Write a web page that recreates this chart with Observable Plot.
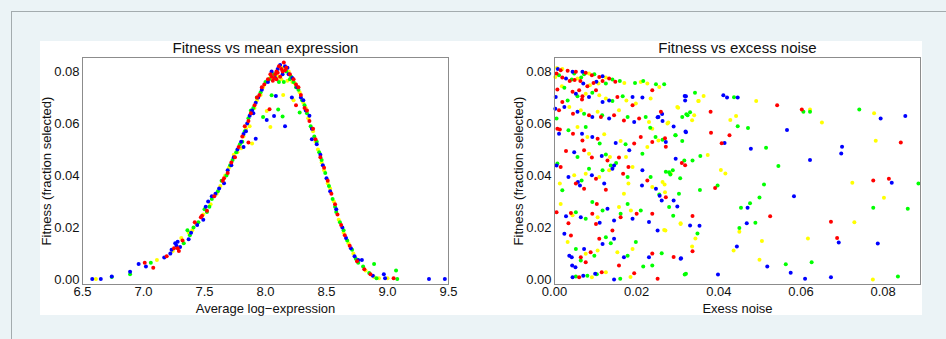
<!DOCTYPE html>
<html><head><meta charset="utf-8">
<script src="https://cdn.jsdelivr.net/npm/d3@7"></script>
<script src="https://cdn.jsdelivr.net/npm/@observablehq/plot@0.6"></script>
<style>
html,body{margin:0;padding:0;background:#ebf3f6;width:946px;height:339px;overflow:hidden;position:relative;font-family:"Liberation Sans",Arial,sans-serif}
#border{position:absolute;left:11px;top:11px;width:1000px;height:400px;border-left:1px solid #a3abae;border-top:1px solid #a3abae}
#panel{position:absolute;left:40px;top:41px;width:882px;height:274px;background:#fff}
#left{position:absolute;left:40px;top:41px}
#right{position:absolute;left:481px;top:41px}
</style></head>
<body>
<div id="border"></div>
<div id="panel"></div>
<div id="left"></div>
<div id="right"></div>
<script>
const seriesNames = ["series Y", "series G", "series B", "series R"];
const seriesColors = ["#ffff00", "#00ff00", "#0000ff", "#ff0000"];
const yTicks = [0, 0.02, 0.04, 0.06, 0.08];
const leftXTicks = [6.5, 7.0, 7.5, 8.0, 8.5, 9.0, 9.5];
const rightXTicks = [0, 0.02, 0.04, 0.06, 0.08];
const leftTitle = "Fitness vs mean expression";
const rightTitle = "Fitness vs excess noise";
const leftXLabel = "Average log\u2212expression";
const rightXLabel = "Exess noise";
const yLabel = "Fitness (fraction selected)";

const leftBlue = [[6.58,0.0002],[6.65,0.0002],[6.74,0.0012],[6.89,0.0030],[6.96,0.0060],[7.02,0.0050],[7.17,0.0085],[7.22,0.0100],[7.23,0.0115],[7.26,0.0140],[7.27,0.0130],[7.28,0.0145],[7.30,0.0125],[7.37,0.0155],[7.39,0.0180],[7.44,0.0210],[7.49,0.0230],[7.51,0.0280],[7.53,0.0300],[7.56,0.0320],[7.59,0.0330],[7.62,0.0350],[7.66,0.0370],[7.69,0.0420],[7.72,0.0440],[7.74,0.0470],[7.77,0.0500],[7.80,0.0530],[7.82,0.0560],[7.82,0.0510],[7.84,0.0570],[7.85,0.0600],[7.87,0.0630],[7.89,0.0650],[7.90,0.0640],[7.92,0.0680],[7.92,0.0542],[7.94,0.0700],[7.97,0.0730],[8.01,0.0614],[8.02,0.0760],[8.05,0.0800],[8.07,0.0629],[8.085,0.0706],[8.08,0.0775],[8.10,0.0810],[8.12,0.0825],[8.14,0.0790],[8.16,0.0820],[8.16,0.0590],[8.18,0.0815],[8.19,0.0790],[8.216,0.0700],[8.22,0.0775],[8.26,0.0740],[8.29,0.0700],[8.31,0.0690],[8.33,0.0650],[8.36,0.0630],[8.38,0.0580],[8.38,0.0540],[8.42,0.0520],[8.45,0.0480],[8.47,0.0440],[8.50,0.0390],[8.53,0.0340],[8.58,0.0270],[8.63,0.0200],[8.66,0.0160],[8.70,0.0120],[8.73,0.0090],[8.76,0.0075],[8.79,0.0075],[8.88,0.0015],[8.97,0.0020],[8.98,0.0005],[9.34,0.0002],[9.47,0.0002]];
const leftRed = [[7.01,0.0065],[7.08,0.0045],[7.19,0.0090],[7.25,0.0120],[7.28,0.0120],[7.29,0.0110],[7.32,0.0150],[7.42,0.0220],[7.47,0.0240],[7.48,0.0245],[7.52,0.0265],[7.58,0.0320],[7.65,0.0380],[7.66,0.0390],[7.69,0.0410],[7.72,0.0450],[7.75,0.0470],[7.78,0.0510],[7.81,0.0550],[7.83,0.0590],[7.86,0.0610],[7.86,0.0527],[7.88,0.0640],[7.91,0.0670],[7.93,0.0700],[7.95,0.0710],[7.97,0.0740],[7.99,0.0750],[8.02,0.0770],[8.033,0.0655],[8.04,0.0790],[8.05,0.0780],[8.06,0.0765],[8.07,0.0775],[8.08,0.0790],[8.09,0.0800],[8.09,0.0770],[8.10,0.0795],[8.11,0.0820],[8.12,0.0780],[8.13,0.0810],[8.14,0.0800],[8.15,0.0835],[8.16,0.0805],[8.17,0.0815],[8.20,0.0790],[8.23,0.0770],[8.25,0.0670],[8.25,0.0750],[8.27,0.0740],[8.29,0.0710],[8.32,0.0660],[8.34,0.0650],[8.36,0.0610],[8.39,0.0580],[8.41,0.0540],[8.45,0.0470],[8.48,0.0430],[8.51,0.0380],[8.54,0.0330],[8.57,0.0290],[8.59,0.0250],[8.62,0.0210],[8.65,0.0170],[8.69,0.0130],[8.75,0.0070],[8.81,0.0040],[8.86,0.0020],[9.05,0.0005]];
const leftGreen = [[6.74,0.0010],[6.89,0.0020],[7.06,0.0065],[7.33,0.0140],[7.36,0.0190],[7.38,0.0170],[7.41,0.0200],[7.45,0.0220],[7.50,0.0270],[7.52,0.0260],[7.54,0.0280],[7.56,0.0310],[7.61,0.0340],[7.64,0.0380],[7.68,0.0400],[7.71,0.0440],[7.73,0.0460],[7.76,0.0490],[7.79,0.0520],[7.81,0.0530],[7.83,0.0570],[7.86,0.0620],[7.88,0.0650],[7.90,0.0660],[7.93,0.0700],[7.96,0.0720],[7.98,0.0625],[8.00,0.0760],[8.03,0.0770],[8.05,0.0709],[8.07,0.0790],[8.104,0.0654],[8.11,0.0760],[8.14,0.0627],[8.15,0.0760],[8.17,0.0800],[8.20,0.0770],[8.21,0.0780],[8.23,0.0760],[8.25,0.0740],[8.27,0.0730],[8.28,0.0642],[8.30,0.0690],[8.32,0.0670],[8.34,0.0640],[8.37,0.0590],[8.40,0.0550],[8.42,0.0530],[8.44,0.0490],[8.46,0.0460],[8.49,0.0410],[8.52,0.0360],[8.55,0.0310],[8.57,0.0280],[8.58,0.0260],[8.61,0.0220],[8.64,0.0190],[8.67,0.0150],[8.71,0.0115],[8.74,0.0080],[8.76,0.0065],[8.80,0.0050],[8.85,0.0025],[8.89,0.0060],[8.91,0.0005],[9.07,0.0035],[9.08,0.0002]];
const leftYellow = [[6.61,0.0002],[7.11,0.0075],[7.24,0.0110],[7.31,0.0160],[7.37,0.0180],[7.40,0.0190],[7.43,0.0215],[7.49,0.0250],[7.55,0.0290],[7.60,0.0330],[7.63,0.0360],[7.67,0.0400],[7.70,0.0430],[7.74,0.0480],[7.77,0.0490],[7.80,0.0505],[7.82,0.0550],[7.84,0.0580],[7.87,0.0590],[7.89,0.0523],[7.91,0.0660],[7.93,0.0690],[7.96,0.0710],[7.98,0.0740],[8.01,0.0648],[8.04,0.0587],[8.04,0.0775],[8.06,0.0790],[8.10,0.0780],[8.13,0.0770],[8.14,0.0815],[8.145,0.0710],[8.18,0.0765],[8.19,0.0800],[8.22,0.0760],[8.23,0.0690],[8.24,0.0755],[8.28,0.0720],[8.31,0.0680],[8.33,0.0660],[8.35,0.0620],[8.39,0.0570],[8.41,0.0530],[8.43,0.0500],[8.46,0.0450],[8.48,0.0420],[8.51,0.0370],[8.53,0.0350],[8.56,0.0300],[8.60,0.0230],[8.64,0.0180],[8.68,0.0140],[8.72,0.0100],[8.82,0.0035],[8.89,0.0010],[8.93,0.0005],[9.00,0.0005]];

const rightRed = [[0.0015,0.0805],[0.0032,0.0803],[0.0052,0.0799],[0.0076,0.0795],[0.0091,0.0786],[0.0109,0.0779],[0.0133,0.0773],[0.0005,0.0792],[0.0019,0.0777],[0.0037,0.0764],[0.0049,0.0767],[0.0063,0.0764],[0.0080,0.0743],[0.0095,0.0756],[0.0117,0.0764],[0.0148,0.0761],[0.0007,0.0731],[0.0044,0.0722],[0.0060,0.0728],[0.0068,0.0705],[0.0067,0.0692],[0.0101,0.0728],[0.0153,0.0702],[0.0238,0.0728],[0.0190,0.0670],[0.0019,0.0683],[0.0011,0.0651],[0.0045,0.0638],[0.0084,0.0632],[0.0113,0.0625],[0.0145,0.0632],[0.0169,0.0612],[0.0206,0.0619],[0.0259,0.0645],[0.0007,0.0580],[0.0013,0.0577],[0.0045,0.0561],[0.0068,0.0535],[0.0105,0.0542],[0.0194,0.0523],[0.0238,0.0529],[0.0210,0.0548],[0.0028,0.0494],[0.0072,0.0497],[0.0091,0.0469],[0.0129,0.0458],[0.0157,0.0469],[0.0180,0.0433],[0.0015,0.0433],[0.0052,0.0369],[0.0072,0.0349],[0.0101,0.0388],[0.0125,0.0345],[0.0167,0.0407],[0.0226,0.0381],[0.0271,0.0317],[0.0318,0.0440],[0.0005,0.0259],[0.0040,0.0256],[0.0034,0.0217],[0.0092,0.0253],[0.0101,0.0214],[0.0103,0.0291],[0.0161,0.0240],[0.0200,0.0253],[0.0238,0.0253],[0.0040,0.0169],[0.0064,0.0086],[0.0076,0.0067],[0.0088,0.0105],[0.0109,0.0157],[0.0141,0.0189],[0.0157,0.0054],[0.0060,0.0009],[0.0115,0.0028],[0.0194,0.0024],[0.0251,0.0003],[0.0238,0.0100],[0.0271,0.0511],[0.0269,0.0543],[0.0310,0.0448],[0.0290,0.0087],[0.0336,0.0109],[0.0336,0.0244],[0.0381,0.0565],[0.0407,0.0524],[0.0426,0.0555],[0.0380,0.0645],[0.0391,0.0352],[0.0525,0.0243],[0.0542,0.0670],[0.0602,0.0654],[0.0673,0.0222],[0.0688,0.0160],[0.0776,0.0381],[0.0814,0.0388],[0.0843,0.0527]];
const rightBlue = [[0.0008,0.0810],[0.0044,0.0799],[0.0068,0.0799],[0.0117,0.0782],[0.0028,0.0773],[0.0070,0.0754],[0.0102,0.0761],[0.0003,0.0702],[0.0052,0.0715],[0.0084,0.0702],[0.0117,0.0683],[0.0133,0.0689],[0.0190,0.0702],[0.0214,0.0700],[0.0024,0.0664],[0.0056,0.0645],[0.0092,0.0625],[0.0133,0.0619],[0.0194,0.0606],[0.0253,0.0625],[0.0263,0.0610],[0.0320,0.0705],[0.0318,0.0689],[0.0002,0.0657],[0.0011,0.0561],[0.0067,0.0561],[0.0092,0.0548],[0.0149,0.0525],[0.0182,0.0497],[0.0271,0.0529],[0.0320,0.0567],[0.0048,0.0490],[0.0115,0.0475],[0.0145,0.0439],[0.0214,0.0420],[0.0005,0.0439],[0.0034,0.0394],[0.0057,0.0375],[0.0062,0.0362],[0.0091,0.0401],[0.0121,0.0369],[0.0141,0.0426],[0.0213,0.0362],[0.0247,0.0349],[0.0295,0.0465],[0.0028,0.0243],[0.0064,0.0240],[0.0110,0.0218],[0.0129,0.0272],[0.0145,0.0227],[0.0190,0.0234],[0.0230,0.0221],[0.0251,0.0189],[0.0024,0.0176],[0.0036,0.0092],[0.0042,0.0086],[0.0043,0.0054],[0.0051,0.0047],[0.0072,0.0118],[0.0117,0.0137],[0.0145,0.0157],[0.0169,0.0086],[0.0230,0.0086],[0.0044,0.0009],[0.0070,0.0015],[0.0099,0.0022],[0.0145,0.0000],[0.0307,0.0080],[0.0251,0.0624],[0.0262,0.0637],[0.0290,0.0589],[0.0319,0.0569],[0.0256,0.0322],[0.0261,0.0304],[0.0299,0.0281],[0.0290,0.0304],[0.0330,0.0208],[0.0353,0.0207],[0.0308,0.0082],[0.0317,0.0706],[0.0411,0.0709],[0.0420,0.0700],[0.0446,0.0700],[0.0414,0.0525],[0.0398,0.0019],[0.0444,0.0127],[0.0468,0.0217],[0.0470,0.0276],[0.0478,0.0503],[0.0518,0.0050],[0.0566,0.0575],[0.0575,0.0026],[0.0583,0.0320],[0.0610,0.0003],[0.0622,0.0460],[0.0673,0.0009],[0.0692,0.0143],[0.0698,0.0485],[0.0700,0.0511],[0.0787,0.0139],[0.0794,0.0619],[0.0821,0.0372],[0.0854,0.0629]];
const rightGreen = [[0.0048,0.0792],[0.0072,0.0790],[0.0097,0.0790],[0.0141,0.0769],[0.0011,0.0786],[0.0042,0.0769],[0.0065,0.0777],[0.0125,0.0754],[0.0159,0.0764],[0.0196,0.0756],[0.0216,0.0764],[0.0247,0.0751],[0.0267,0.0751],[0.0024,0.0738],[0.0056,0.0705],[0.0092,0.0718],[0.0141,0.0687],[0.0166,0.0705],[0.0032,0.0689],[0.0005,0.0619],[0.0072,0.0638],[0.0116,0.0632],[0.0178,0.0625],[0.0222,0.0625],[0.0311,0.0625],[0.0324,0.0632],[0.0342,0.0718],[0.0034,0.0574],[0.0076,0.0587],[0.0110,0.0523],[0.0173,0.0520],[0.0214,0.0484],[0.0263,0.0538],[0.0295,0.0555],[0.0246,0.0548],[0.0056,0.0471],[0.0125,0.0481],[0.0150,0.0448],[0.0007,0.0446],[0.0019,0.0343],[0.0066,0.0381],[0.0084,0.0426],[0.0117,0.0420],[0.0137,0.0439],[0.0178,0.0394],[0.0234,0.0394],[0.0255,0.0327],[0.0279,0.0413],[0.0336,0.0458],[0.0052,0.0259],[0.0076,0.0234],[0.0117,0.0266],[0.0161,0.0253],[0.0092,0.0298],[0.0178,0.0291],[0.0210,0.0266],[0.0279,0.0279],[0.0303,0.0330],[0.0052,0.0118],[0.0064,0.0073],[0.0097,0.0092],[0.0125,0.0163],[0.0137,0.0140],[0.0178,0.0092],[0.0198,0.0144],[0.0238,0.0054],[0.0052,0.0012],[0.0080,0.0015],[0.0103,0.0020],[0.0160,0.0003],[0.0216,0.0050],[0.0320,0.0022],[0.0233,0.0584],[0.0271,0.0415],[0.0288,0.0420],[0.0282,0.0404],[0.0306,0.0390],[0.0316,0.0458],[0.0311,0.0533],[0.0294,0.0555],[0.0321,0.0636],[0.0330,0.0643],[0.0289,0.0245],[0.0348,0.0177],[0.0354,0.0344],[0.0261,0.0101],[0.0317,0.0019],[0.0355,0.0475],[0.0397,0.0362],[0.0437,0.0701],[0.0446,0.0590],[0.0450,0.0198],[0.0454,0.0276],[0.0471,0.0583],[0.0476,0.0293],[0.0489,0.0218],[0.0499,0.0316],[0.0510,0.0366],[0.0515,0.0507],[0.0545,0.0437],[0.0563,0.0059],[0.0606,0.0645],[0.0622,0.0645],[0.0626,0.0067],[0.0742,0.0654],[0.0776,0.0276],[0.0836,0.0012],[0.0860,0.0272],[0.0886,0.0369]];
const rightYellow = [[0.0006,0.0814],[0.0019,0.0810],[0.0084,0.0792],[0.0125,0.0777],[0.0002,0.0779],[0.0056,0.0773],[0.0086,0.0747],[0.0107,0.0754],[0.0170,0.0756],[0.0210,0.0760],[0.0226,0.0754],[0.0255,0.0741],[0.0018,0.0743],[0.0076,0.0715],[0.0109,0.0709],[0.0125,0.0696],[0.0175,0.0689],[0.0234,0.0696],[0.0198,0.0677],[0.0036,0.0664],[0.0064,0.0651],[0.0105,0.0645],[0.0157,0.0651],[0.0230,0.0606],[0.0275,0.0600],[0.0299,0.0664],[0.0340,0.0632],[0.0350,0.0687],[0.0056,0.0587],[0.0080,0.0548],[0.0121,0.0559],[0.0161,0.0533],[0.0226,0.0510],[0.0253,0.0535],[0.0238,0.0580],[0.0084,0.0484],[0.0135,0.0471],[0.0174,0.0471],[0.0190,0.0433],[0.0013,0.0369],[0.0048,0.0401],[0.0076,0.0407],[0.0109,0.0394],[0.0133,0.0420],[0.0180,0.0369],[0.0238,0.0356],[0.0263,0.0375],[0.0283,0.0407],[0.0015,0.0291],[0.0044,0.0247],[0.0105,0.0240],[0.0157,0.0279],[0.0169,0.0330],[0.0186,0.0266],[0.0267,0.0191],[0.0307,0.0214],[0.0032,0.0144],[0.0076,0.0099],[0.0105,0.0112],[0.0153,0.0105],[0.0190,0.0118],[0.0091,0.0009],[0.0125,0.0028],[0.0185,0.0010],[0.0277,0.0604],[0.0301,0.0661],[0.0335,0.0613],[0.0268,0.0366],[0.0269,0.0336],[0.0270,0.0189],[0.0307,0.0217],[0.0335,0.0127],[0.0343,0.0158],[0.0351,0.0687],[0.0363,0.0706],[0.0373,0.0479],[0.0405,0.0421],[0.0416,0.0408],[0.0428,0.0614],[0.0436,0.0112],[0.0442,0.0629],[0.0450,0.0184],[0.0491,0.0687],[0.0499,0.0076],[0.0505,0.0148],[0.0617,0.0158],[0.0622,0.0654],[0.0651,0.0604],[0.0725,0.0372],[0.0730,0.0220],[0.0775,0.0000],[0.0778,0.0640],[0.0782,0.0534],[0.0802,0.0315]];

function table(groups) {
  const rows = [];
  for (const [name, pts] of groups) for (const [x, y] of pts) rows.push({x, y, series: name});
  return rows;
}
const leftData = table([[seriesNames[0], leftYellow], [seriesNames[1], leftGreen], [seriesNames[2], leftBlue], [seriesNames[3], leftRed]]);
const rightData = table([[seriesNames[0], rightYellow], [seriesNames[1], rightGreen], [seriesNames[2], rightBlue], [seriesNames[3], rightRed]]);

function panel(data, xDomain, xTicks, xFmt, xLabel, title, mL, mR) {
  return Plot.plot({
    width: 441, height: 274,
    marginLeft: mL, marginRight: mR, marginTop: 16, marginBottom: 31,
    style: {fontFamily: "'Liberation Sans', Arial, sans-serif", fontSize: "13px", background: "transparent", color: "#111", overflow: "visible"},
    x: {domain: xDomain},
    y: {domain: [-0.0019, 0.0854]},
    color: {type: "ordinal", domain: seriesNames, range: seriesColors},
    marks: [
      Plot.dot(data, {x: "x", y: "y", fill: "series", r: 2}),
      Plot.frame({stroke: "#8c8c8c"}),
      Plot.axisX({ticks: xTicks, tickFormat: xFmt, tickSize: 0, tickPadding: 2, label: null, fontSize: 13}),
      Plot.axisY({ticks: yTicks, tickFormat: d3.format(".2f"), tickSize: 0, tickPadding: 3, label: null, fontSize: 13}),
      Plot.text([xLabel], {frameAnchor: "bottom", lineAnchor: "middle", dy: 24, fontSize: 13}),
      Plot.text([title], {frameAnchor: "top", lineAnchor: "middle", dy: -9, fontSize: 15}),
      Plot.text([yLabel], {frameAnchor: "left", textAnchor: "middle", lineAnchor: "middle", rotate: -90, dx: -36, fontSize: 13})
    ]
  });
}
document.getElementById("left").append(panel(leftData, [6.5, 9.5], leftXTicks, d3.format(".1f"), leftXLabel, leftTitle, 42, 33));
document.getElementById("right").append(panel(rightData, [0, 0.0891], rightXTicks, d3.format(".2f"), rightXLabel, rightTitle, 73, 2));
</script>
</body></html>
